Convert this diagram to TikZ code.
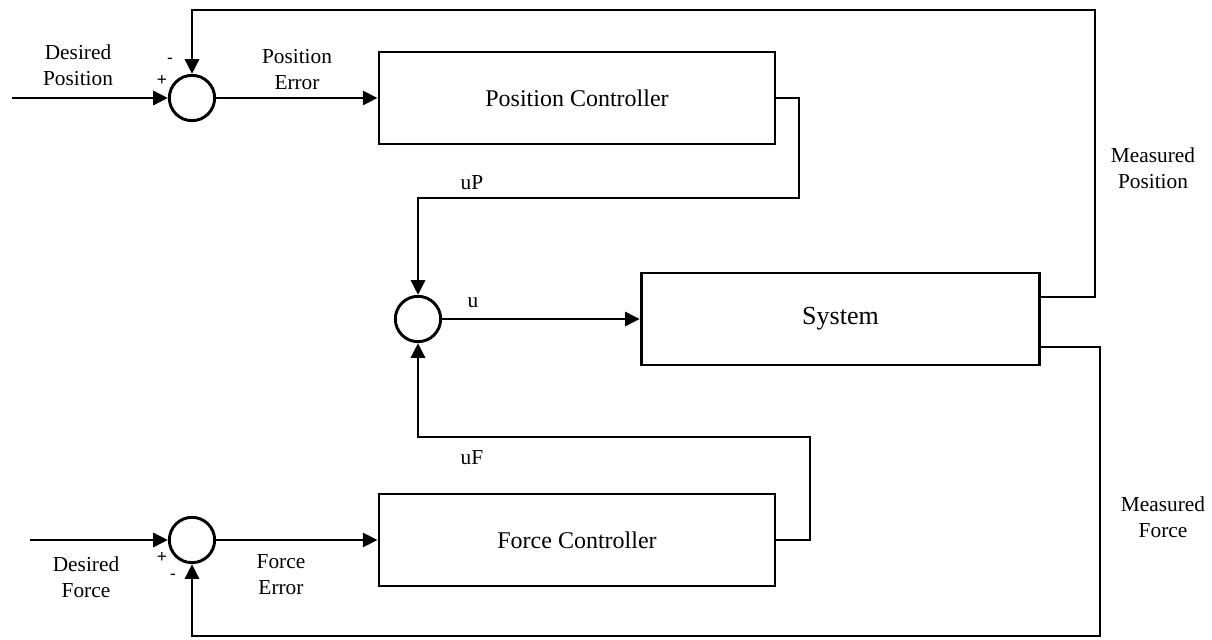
\documentclass[tikz,border=0pt]{standalone}
\usepackage{fontspec}
\setmainfont{Liberation Serif}
\newfontfamily\signfont{Liberation Sans}
\usetikzlibrary{arrows.meta,calc}
\begin{document}
\begin{tikzpicture}[x=0.75pt,y=-0.75pt,
  line width=2.2pt,
  arr/.style={-{Triangle[length=11pt,width=10.5pt]}},
  sumnode/.style={circle,draw,minimum size=34pt,inner sep=0pt},
  blockbox/.style={draw,rectangle,minimum width=297pt,minimum height=69pt,inner sep=0pt,font=\fontsize{18}{20}\selectfont},
  lbl/.style={align=center,font=\fontsize{16}{19.5}\selectfont,inner sep=0pt},
  sgn/.style={font=\signfont\fontsize{13}{14}\selectfont,inner sep=0pt}]
\useasboundingbox (0,0) rectangle (1212,639);
% nodes
\node[sumnode] (s1) at (192,98) {};
\node[sumnode] (s2) at (418,319) {};
\node[sumnode] (s3) at (192,540) {};
\node[blockbox] (pc) at (577,98) {Position Controller};
\node[blockbox] (fc) at (577,540) {Force Controller};
\node[blockbox,minimum width=299pt,minimum height=69pt,font=\fontsize{19.5}{22}\selectfont] (sys) at (840.5,319) {System};
% coordinates
\coordinate (dp) at (12,98);
\coordinate (df) at (30,540);
\coordinate (mpo) at (1040,297);
\coordinate (mp1) at (1095,297);
\coordinate (mp2) at (1095,10);
\coordinate (mfo) at (1040,347);
\coordinate (mf1) at (1100,347);
\coordinate (mf2) at (1100,636);
\coordinate (up1) at (799,98);
\coordinate (up2) at (799,198);
\coordinate (uf1) at (810,540);
\coordinate (uf2) at (810,437);
% connectors
\draw[arr] (dp) -- (s1.west);
\draw[arr] (s1.east) -- (pc.west);
\draw[arr] (df) -- (s3.west);
\draw[arr] (s3.east) -- (fc.west);
\draw[arr] (s2.east) -- (sys.west);
\draw[arr] (pc.east) -- (up1) -- (up2) -| (s2.north);
\draw[arr] (fc.east) -- (uf1) -- (uf2) -| (s2.south);
\draw[arr] (mpo) -- (mp1) -- (mp2) -| (s1.north);
\draw[arr] (mfo) -- (mf1) -- (mf2) -| (s3.south);
% labels
\node[lbl] (tdp) at (78,65) {Desired\\Position};
\node[lbl] (tpe) at (297,70) {Position\\Error};
\node[lbl] (tup) at (472,183) {uP};
\node[lbl] (tu) at (473,303) {u};
\node[lbl] (tuf) at (472,458) {uF};
\node[lbl] (tmp) at (1153,168) {Measured\\Position};
\node[lbl] (tmf) at (1163,517) {Measured\\Force};
\node[lbl] (tdf) at (86,577) {Desired\\Force};
\node[lbl] (tfe) at (281,575) {Force\\Error};
\node[sgn] (m1) at (170,61) {-};
\node[sgn] (p1) at (162,80) {+};
\node[sgn] (p3) at (162,557) {+};
\node[sgn] (m3) at (173,577) {-};
\end{tikzpicture}
\end{document}
